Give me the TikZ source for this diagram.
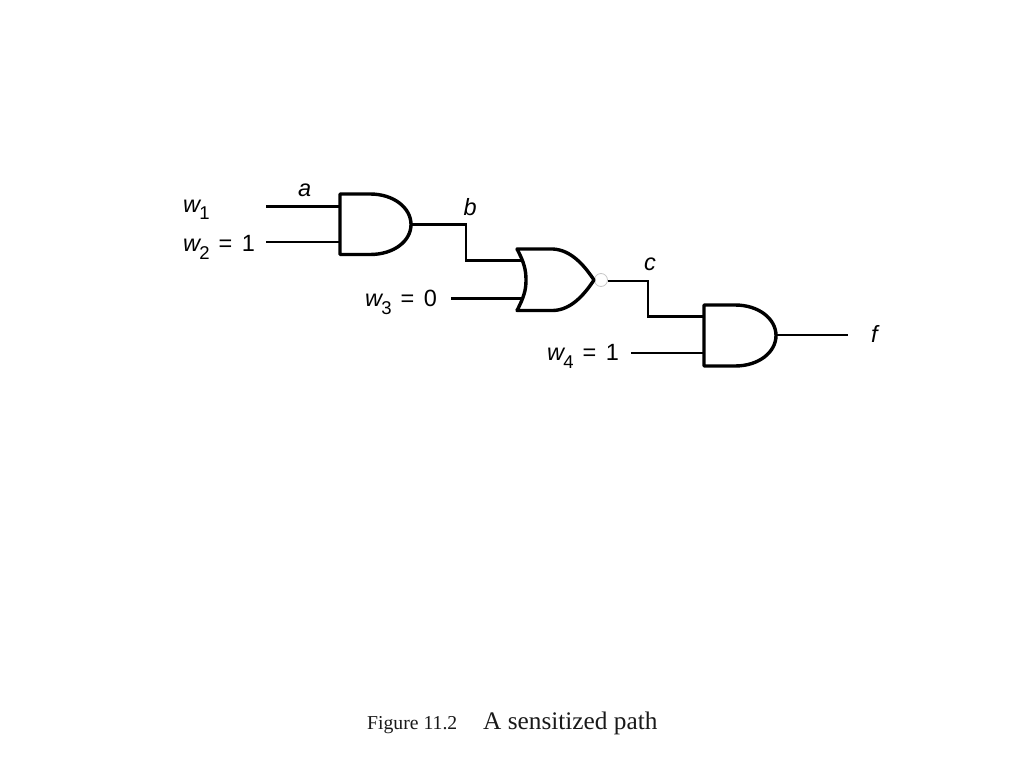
\documentclass[tikz,border=0pt]{standalone}
\usepackage{fontspec}
\setmainfont{Liberation Sans}
\newfontfamily\capfont{Liberation Serif}
\tikzset{
  gate/.style={line width=3.4pt,line join=round,fill=white},
  wire/.style={line width=2.1pt,line join=miter},
  lab/.style={inner sep=0pt,anchor=base west,font=\fontsize{23.5}{26}\selectfont},
  capt/.style={inner sep=0pt,anchor=base west,text=black!90}
}
\newcommand{\wsub}[2]{\textit{w}\kern-2pt\raisebox{-#2pt}{\fontsize{18.5}{20}\selectfont #1}}
\newcommand{\eqv}[1]{\kern9pt=\kern9.5pt#1}
\begin{document}
\begin{tikzpicture}[x=1pt,y=-1pt]
\useasboundingbox (0,0) rectangle (1024,768);
% pins
\coordinate (w1) at (266,206.5);
\coordinate (w2) at (266,242);
\coordinate (w3) at (451,298.5);
\coordinate (w4) at (631,353);
\coordinate (g1a) at (340,206.5);
\coordinate (g1b) at (340,242);
\coordinate (g1o) at (411,224.5);
\coordinate (g2a) at (521,260.5);
\coordinate (g2b) at (523,298.5);
\coordinate (g3a) at (704,316.5);
\coordinate (g3b) at (704,353);
\coordinate (g3o) at (776,335);
\coordinate (fend) at (848,335);
% wires
\draw[wire] (w1) -- (g1a);
\draw[wire] (w2) -- (g1b);
\draw[wire] (g1o) -| (466,260.5) -- (g2a);
\draw[wire] (w3) -- (g2b);
\node[circle,draw=black!22,line width=0.8pt,fill=white,minimum size=13pt,inner sep=0pt] (bub) at (601,280) {};
\draw[wire] (bub.east) ++(0,0.8) -| (648,316.5) -- (g3a);
\draw[wire] (w4) -- (g3b);
\draw[wire] (g3o) -- (fend);
% gates
\draw[gate] (340,194) -- (370,194) .. controls (394,194) and (411,208) .. (411,224.5)
  .. controls (411,241) and (394,254.5) .. (370,254.5) -- (340,254.5) -- cycle;
\draw[gate] (517,249) -- (553,249) .. controls (571,250) and (584,265) .. (594,280)
  .. controls (584,295) and (571,310) .. (553,310.5) -- (517,310.5)
  .. controls (524,297) and (526,290) .. (526,280) .. controls (526,270) and (524,262) .. (517,249) -- cycle;
\draw[gate] (704,305) -- (735,305) .. controls (759,305) and (776,319) .. (776,335.5)
  .. controls (776,352) and (759,366) .. (735,366) -- (704,366) -- cycle;
% labels
\node[lab] (la) at (298,196.5) {\textit{a}};
\node[lab] (lb) at (463.5,215.5) {\textit{b}};
\node[lab] (lc) at (644,270.5) {\textit{c}};
\node[lab] (lf) at (871,342.5) {\textit{f}};
\node[lab] (lw1) at (183,212) {\wsub{1}{7}};
\node[lab] (lw2) at (183,251) {\wsub{2}{8}\eqv{1}};
\node[lab] (lw3) at (365,306) {\wsub{3}{8}\eqv{0}};
\node[lab] (lw4) at (547,360) {\wsub{4}{8}\eqv{1}};
% caption
\node[capt,font={\capfont\fontsize{19.7}{22}\selectfont}] (cap1) at (367,729) {Figure 11.2};
\node[capt,font={\capfont\fontsize{25.3}{28}\selectfont}] (cap2) at (483,729) {A sensitized path};
\end{tikzpicture}
\end{document}
